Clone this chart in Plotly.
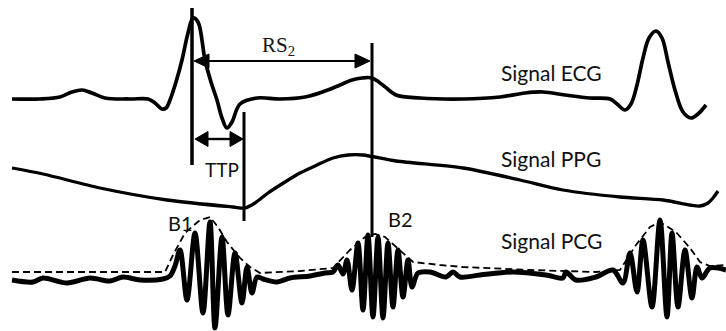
import plotly.graph_objects as go

# ---------------- data (pixel-space coordinates of the traced signals) ----------------
ecg_x = [12, 40, 60, 72, 82, 92, 105, 130, 148, 155, 162, 166, 170, 176, 182, 188, 193, 198,
         205, 211, 217, 222, 227, 232, 240, 257, 280, 305, 325, 340, 352, 362, 372, 384, 396,
         420, 463, 500, 525, 543, 565, 590, 610, 617, 625, 631, 637, 643, 649, 656, 662, 668,
         675, 683, 691, 698, 706]
ecg_y = [99, 99, 97, 92, 90, 93, 98, 99, 99, 103, 109, 108, 100, 82, 60, 33, 18, 22,
         60, 82, 100, 118, 128, 122, 104, 98, 99, 97, 91, 85, 80, 78, 78, 86, 95,
         98, 99, 97, 93, 92, 95, 98, 99, 104, 110, 104, 85, 58, 38, 31, 38, 62,
         90, 112, 118, 114, 105]

ppg_x = [12, 43, 100, 167, 233, 245, 255, 268, 285, 300, 317, 333, 348, 363, 396, 463, 520,
         563, 620, 663, 690, 700, 708, 713, 718]
ppg_y = [168, 174, 188, 200, 207, 208, 203, 193, 182, 173, 165, 158, 155, 155, 161, 168, 180,
         190, 197, 200, 205, 206, 203, 198, 191]

pcg_x = [12, 33, 43, 67, 90, 110, 123, 140, 163, 170, 175, 180, 187, 195, 203, 210, 215, 222,
         228, 235, 242, 247, 252, 257, 263, 277, 290, 310, 325, 333, 338, 343, 347, 352, 358,
         363, 368, 373, 378, 383, 388, 393, 398, 403, 408, 412, 418, 430, 446, 453, 460, 480,
         513, 546, 563, 566, 576, 596, 613, 623, 630, 637, 643, 652, 660, 667, 672, 678, 685,
         692, 697, 702, 710, 726]
pcg_y = [280, 282, 278, 283, 278, 281, 277, 280, 279, 276, 266, 250, 300, 233, 313, 222, 328, 237,
         315, 253, 303, 267, 293, 277, 279, 282, 278, 276, 273, 272, 265, 274, 260, 290, 243,
         310, 235, 317, 237, 318, 243, 307, 250, 297, 260, 287, 273, 272, 277, 272, 277, 275,
         272, 275, 278, 272, 280, 277, 270, 283, 253, 292, 240, 307, 220, 317, 233, 307, 250,
         298, 267, 278, 268, 270]

env_x = [12, 165, 173, 185, 200, 210, 218, 227, 240, 250, 260, 300, 333, 350, 365, 375, 385,
         400, 413, 440, 463, 530, 596, 620, 636, 650, 660, 676, 690, 700, 710, 726]
env_y = [272, 272, 255, 233, 220, 217, 227, 242, 258, 267, 273, 271, 268, 250, 237, 234, 237,
         250, 262, 265, 267, 270, 272, 270, 245, 227, 222, 232, 248, 262, 266, 265]

# vertical marker lines: x, top, bottom
marker_x = [192, 244, 372]
marker_top = [8, 112, 43]
marker_bottom = [165, 221, 237]

# double-headed interval arrows: (x_start, x_end, y)
arrow_x0 = [194, 195]
arrow_x1 = [370, 243]
arrow_y = [61, 139]

labels = ["Signal ECG", "Signal PPG", "Signal PCG", "TTP", "B1", "B2"]
label_x = [499, 499, 499, 203, 166, 386]
label_y = [72, 158, 240, 169, 223, 219]
label_size = [21, 21, 21, 19, 20, 20]

# ---------------- figure ----------------
fig = go.Figure()

INK = "#000000"

fig.add_trace(go.Scatter(x=env_x, y=env_y, mode="lines",
                         line=dict(color=INK, width=1.8, dash="7px,4px"),
                         hoverinfo="skip"))
fig.add_trace(go.Scatter(x=ecg_x, y=ecg_y, mode="lines",
                         line=dict(color=INK, width=3.7, shape="spline", smoothing=1.0),
                         hoverinfo="skip"))
fig.add_trace(go.Scatter(x=ppg_x, y=ppg_y, mode="lines",
                         line=dict(color=INK, width=3.3, shape="spline", smoothing=0.8),
                         hoverinfo="skip"))
fig.add_trace(go.Scatter(x=pcg_x, y=pcg_y, mode="lines",
                         line=dict(color=INK, width=5, shape="spline", smoothing=0.9),
                         hoverinfo="skip"))

widths = [3.5, 3, 3]
for mx, mt, mb, w in zip(marker_x, marker_top, marker_bottom, widths):
    fig.add_trace(go.Scatter(x=[mx, mx], y=[mt, mb], mode="lines",
                             line=dict(color=INK, width=w), hoverinfo="skip"))

head_len = [15, 13]
head_half = [7, 7.5]
shaft_w = [1.8, 2.4]
for x0, x1, yy, hl, hh, sw in zip(arrow_x0, arrow_x1, arrow_y, head_len, head_half, shaft_w):
    fig.add_trace(go.Scatter(x=[x0 + hl - 1, x1 - hl + 1], y=[yy, yy], mode="lines",
                             line=dict(color=INK, width=sw), hoverinfo="skip"))
    fig.add_trace(go.Scatter(x=[x0, x0 + hl, x0 + hl, x0], y=[yy, yy - hh, yy + hh, yy],
                             mode="lines", fill="toself", fillcolor=INK,
                             line=dict(color=INK, width=1), hoverinfo="skip"))
    fig.add_trace(go.Scatter(x=[x1, x1 - hl, x1 - hl, x1], y=[yy, yy - hh, yy + hh, yy],
                             mode="lines", fill="toself", fillcolor=INK,
                             line=dict(color=INK, width=1), hoverinfo="skip"))

for t, lx, ly, fs in zip(labels, label_x, label_y, label_size):
    fig.add_annotation(x=lx, y=ly, text=t, showarrow=False, xanchor="left", yanchor="middle",
                       font=dict(family="Lato", size=fs, color="#111111"))

fig.add_annotation(x=260, y=46, text="RS<sub>2</sub>", showarrow=False,
                   xanchor="left", yanchor="middle",
                   font=dict(family="Liberation Serif", size=21, color="#151515"))

fig.update_layout(
    width=726, height=331, margin=dict(l=0, r=0, t=0, b=0),
    paper_bgcolor="white", plot_bgcolor="white", showlegend=False,
    xaxis=dict(range=[0, 726], visible=False, fixedrange=True),
    yaxis=dict(range=[331, 0], visible=False, fixedrange=True),
)

fig.write_html("out.html")
